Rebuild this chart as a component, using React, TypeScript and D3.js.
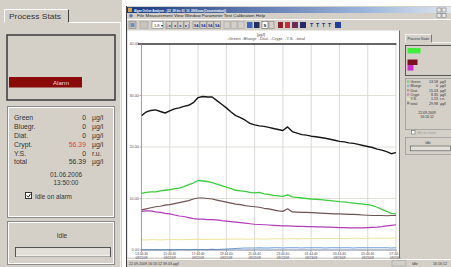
import React from 'react';
import * as d3 from 'd3';

// ---- chart data (20-minute samples from 22.09.2009 13:44:40) ----
const startTime = new Date(2009, 8, 22, 13, 44, 40);
const endTime = new Date(2009, 8, 23, 7, 44, 40);
const stepMinutes = 20;

const total = [26.1, 26.8, 27.1, 27.2, 26.9, 26.6, 27.0, 27.4, 27.6, 27.9, 28.1, 28.6, 29.6, 29.8, 29.7, 29.7, 29.0, 28.3, 27.6, 26.8, 26.1, 25.7, 25.2, 24.6, 24.3, 24.1, 24.0, 23.8, 23.6, 23.4, 23.2, 23.9, 23.0, 22.7, 22.4, 22.3, 22.1, 22.0, 21.85, 21.7, 21.5, 21.3, 21.1, 21.0, 20.8, 20.7, 20.5, 20.3, 20.1, 19.9, 19.6, 19.4, 19.1, 18.7, 18.9];
const green = [11.0, 11.2, 11.3, 11.3, 11.5, 11.6, 11.7, 11.9, 12.0, 12.3, 12.7, 13.0, 13.5, 13.4, 13.3, 13.1, 12.8, 12.5, 12.2, 11.9, 11.6, 11.5, 11.4, 11.2, 11.1, 11.2, 10.9, 10.8, 10.6, 10.5, 10.4, 10.7, 10.3, 10.2, 10.1, 10.0, 9.9, 9.85, 9.8, 9.7, 9.6, 9.5, 9.4, 9.35, 9.2, 9.1, 9.0, 8.9, 8.8, 8.6, 8.3, 7.9, 7.5, 7.1, 7.0];
const diat = [7.8, 8.0, 8.2, 8.4, 8.5, 8.7, 8.8, 9.0, 9.2, 9.4, 9.6, 9.9, 10.1, 10.1, 10.0, 9.9, 9.7, 9.5, 9.3, 9.1, 8.9, 8.8, 8.6, 8.5, 8.4, 8.3, 8.1, 8.0, 7.8, 7.6, 7.5, 8.0, 7.4, 7.35, 7.3, 7.3, 7.25, 7.2, 7.15, 7.1, 7.05, 7.0, 7.0, 6.95, 6.9, 6.9, 6.85, 6.8, 6.75, 6.7, 6.7, 6.7, 6.65, 6.7, 6.7];
const crypt = [7.5, 7.6, 7.6, 7.4, 7.3, 7.1, 7.0, 6.8, 6.6, 6.5, 6.3, 6.1, 6.0, 6.0, 5.9, 5.9, 5.85, 5.7, 5.6, 5.5, 5.4, 5.3, 5.2, 5.1, 5.0, 4.95, 4.9, 4.85, 4.8, 4.75, 4.7, 4.7, 4.65, 4.6, 4.6, 4.55, 4.55, 4.5, 4.5, 4.45, 4.45, 4.4, 4.35, 4.35, 4.3, 4.3, 4.3, 4.3, 4.35, 4.4, 4.45, 4.55, 4.7, 4.8, 4.9];
const yellowSubst = [1.95, 1.95, 2.0, 2.0, 1.95, 2.0, 2.0, 2.05, 2.0, 2.0, 2.05, 2.05, 2.1, 2.05, 2.05, 2.1, 2.1, 2.05, 2.1, 2.1, 2.1, 2.15, 2.1, 2.1, 2.15, 2.15, 2.1, 2.15, 2.15, 2.2, 2.15, 2.2, 2.2, 2.15, 2.2, 2.2, 2.2, 2.25, 2.2, 2.2, 2.25, 2.25, 2.25, 2.2, 2.25, 2.3, 2.25, 2.25, 2.3, 2.3, 2.3, 2.25, 2.3, 2.3, 2.3];
const bluegr = [0.05, 0.05, 0.05, 0.1, 0.05, 0.05, 0.1, 0.05, 0.1, 0.1, 0.05, 0.1, 0.1, 0.1, 0.1, 0.15, 0.1, 0.15, 0.2, 0.25, 0.3, 0.35, 0.4, 0.4, 0.4, 0.45, 0.4, 0.4, 0.45, 0.45, 0.4, 0.45, 0.45, 0.45, 0.4, 0.45, 0.45, 0.45, 0.45, 0.4, 0.45, 0.45, 0.45, 0.45, 0.45, 0.4, 0.45, 0.45, 0.45, 0.45, 0.45, 0.45, 0.45, 0.4, 0.45];

const yTicks = [0, 10, 20, 30, 40];
const xTickTimes = ['13:44:40', '15:44:40', '17:44:40', '19:44:40', '21:44:40', '23:44:40', '01:44:40', '03:44:40', '05:44:40', '07:44:40'];
const xTickDates = ['09/22/09', '09/22/09', '09/22/09', '09/22/09', '09/22/09', '09/22/09', '09/23/09', '09/23/09', '09/23/09', '09/23/09'];

const seriesNames = ['-Green', '-Bluegr.', '-Diat.', '-Crypt.', '-Y.S.', '-total'];
const leftValues = ['0', '0', '0', '56.39', '0', '56.39'];
const rightValues = ['13.58', '0', '15.03', '8.35', '1.53', '29.98'];
const statLabels = ['Green', 'Bluegr.', 'Diat.', 'Crypt.', 'Y.S.', 'total'];
const statUnits = ['µg/l', 'µg/l', 'µg/l', 'µg/l', 'r.u.', 'µg/l'];
const menuItems = 'File   Measurement   View   Window   Parameter   Test   Calibration   Help';

const GRAY = '#d4d0c8';
const FONT = 'Liberation Sans, Arial, sans-serif';

export default function App() {
  const times = total.map((_, i) => new Date(startTime.getTime() + i * stepMinutes * 60000));
  const x = d3.scaleTime().domain([startTime, endTime]).range([141.5, 396]);
  const y = d3.scaleLinear().domain([0, 40]).range([250, 44]);
  const line = d3.line<number>().x((_, i) => x(times[i])).y((d) => y(d));
  const tickDates = xTickTimes.map((_, i) => d3.timeHour.offset(startTime, 2 * i));

  const series = [
    { v: yellowSubst, c: '#efe39a', w: 1 },
    { v: bluegr, c: '#6a9fd8', w: 1.1 },
    { v: crypt, c: '#b23bb8', w: 1.2 },
    { v: diat, c: '#6f5252', w: 1.2 },
    { v: green, c: '#3ccd3c', w: 1.3 },
    { v: total, c: '#161616', w: 1.4 },
  ];

  const leftRowsY = [120, 129, 137.8, 146.8, 155.6, 164.4];
  const rightRowsY = [83, 87.3, 91.6, 95.9, 100.2, 104.5];

  return (
    <svg width={451} height={267} style={{ position: 'absolute', left: 0, top: 0, fontFamily: FONT }}>
      <defs>
        <linearGradient id="tb" x1="0" x2="1" y1="0" y2="0">
          <stop offset="0" stopColor="#1a3a82" />
          <stop offset="0.75" stopColor="#9fb8dc" />
          <stop offset="1" stopColor="#dfe6ee" />
        </linearGradient>
      </defs>
      <rect x={0} y={0} width={451} height={267} fill="#ffffff" />

      {/* ---------- left Process Stats panel ---------- */}
      <rect x={0} y={0} width={122} height={267} fill={GRAY} />
      <line x1={120.5} y1={22} x2={120.5} y2={267} stroke="#f4f2ee" />
      <path d="M4.5,22.5 V9.5 H68.5 V22.5" fill={GRAY} stroke="#ffffff" />
      <line x1={68.5} y1={9.5} x2={68.5} y2={22.5} stroke="#404040" />
      <line x1={68.5} y1={22.5} x2={120.5} y2={22.5} stroke="#ffffff" />
      <text x={9} y={19} fontSize={6.8} fill="#333" textLength={52} lengthAdjust="spacingAndGlyphs">Process Stats</text>
      <rect x={7} y={35} width={108} height={65} fill={GRAY} stroke="#3a3a3a" strokeWidth={1.5} />
      <rect x={9} y={77} width={73} height={10.5} fill="#8a0a0a" />
      <text x={61} y={85} fontSize={6.2} fill="#f3d6d6" textAnchor="middle">Alarm</text>
      <rect x={7.5} y={106.5} width={107} height={111} fill="none" stroke="#8a8a8a" />
      <rect x={8.5} y={107.5} width={105} height={109} fill="none" stroke="#ffffff" />
      {statLabels.map((l, i) => (
        <g key={l} fontSize={6.9}>
          <text x={14} y={leftRowsY[i]} fill="#333">{l}</text>
          <text x={86} y={leftRowsY[i]} fill={i === 3 ? '#e23b3b' : '#333'} textAnchor="end">{leftValues[i]}</text>
          <text x={92} y={leftRowsY[i]} fill="#333">{statUnits[i]}</text>
        </g>
      ))}
      <text x={66} y={177} fontSize={6.4} fill="#333" textAnchor="middle">01.06.2006</text>
      <text x={66} y={185} fontSize={6.4} fill="#333" textAnchor="middle">13:50:00</text>
      <rect x={25.5} y={192.5} width={6} height={6} fill="#fff" stroke="#333" />
      <path d="M26.8,195.5 L28.3,197.2 L30.6,193.8" fill="none" stroke="#222" strokeWidth={1} />
      <text x={35} y={198.5} fontSize={6.4} fill="#333">Idle on alarm</text>
      <rect x={7.5} y={221.5} width={107} height={43} fill="none" stroke="#8a8a8a" />
      <rect x={8.5} y={222.5} width={105} height={41} fill="none" stroke="#ffffff" />
      <text x={62} y={238} fontSize={6.4} fill="#333" textAnchor="middle">Idle</text>
      <rect x={15.5} y={247.5} width={95} height={9} fill="#e2dfd8" stroke="#555" />
      <line x1={16} y1={256} x2={110} y2={256} stroke="#fff" />

      {/* ---------- application window ---------- */}
      <rect x={126} y={6} width={325} height={261} fill={GRAY} />
      <line x1={126.5} y1={6} x2={126.5} y2={267} stroke="#404040" />
      <rect x={127} y={7} width={324} height={6} fill="url(#tb)" />
      <rect x={128} y={7.8} width={4} height={4.2} fill="#d8a040" />
      <text x={134} y={11.6} fontSize={4.2} fontWeight="bold" fill="#fff" textLength={92} lengthAdjust="spacingAndGlyphs">
        Algae Online Analyser - [22_09 bis 03_10_2009.aoa (Concentration)]
      </text>
      <g fill="#e8e8e8" stroke="#555" strokeWidth={0.4}>
        <rect x={437} y={8} width={4} height={4} />
        <rect x={442} y={8} width={4} height={4} />
        <rect x={437} y={13.5} width={4} height={4} />
        <rect x={442} y={13.5} width={4} height={4} />
      </g>
      {/* menu */}
      <circle cx={131} cy={15.8} r={1.8} fill="#5a7ab0" />
      <text x={137} y={17.4} fontSize={4} fill="#222" textLength={128} lengthAdjust="spacingAndGlyphs">{menuItems}</text>
      {/* toolbar */}
      <line x1={127} y1={19.5} x2={451} y2={19.5} stroke="#fff" />
      <g>
        <rect x={129} y={21.5} width={7} height={7} fill="#c8c4bc" stroke="#777" strokeWidth={0.5} />
        <rect x={130.5} y={23} width={4} height={4} fill="#6d8bbd" />
        <rect x={140} y={21.5} width={8} height={7} fill="#c8c4bc" stroke="#999" strokeWidth={0.5} />
        <rect x={152} y={21.5} width={11} height={7} fill="#fff" stroke="#666" strokeWidth={0.5} />
        <text x={154} y={26.6} fontSize={4} fill="#222">1.8 ▾</text>
        {[166, 172, 178, 184].map((bx, i) => (
          <g key={'n' + i}>
            <rect x={bx} y={21.5} width={5.5} height={7} fill={GRAY} stroke="#777" strokeWidth={0.5} />
            <text x={bx + 2.75} y={26.5} fontSize={3.6} fill="#1c2f7a" textAnchor="middle">{['|◄', '◄', '►', '►|'][i]}</text>
          </g>
        ))}
        {[193, 200, 207, 214].map((bx, i) => (
          <g key={'s' + i}>
            <rect x={bx} y={21.5} width={6.5} height={7} fill={GRAY} stroke="#777" strokeWidth={0.5} />
            <text x={bx + 3.25} y={26.5} fontSize={3.4} fill="#1c2f9a" textAnchor="middle" fontWeight="bold">SA</text>
          </g>
        ))}
        {[224, 231, 238].map((bx, i) => (
          <rect key={'g' + i} x={bx} y={21.5} width={6} height={7} fill={GRAY} stroke="#999" strokeWidth={0.5} />
        ))}
        <rect x={247} y={22} width={5.5} height={6} fill="#3d64c0" />
        <rect x={254} y={22} width={5.5} height={6} fill="#22305a" />
        <rect x={262} y={21.5} width={6} height={7} fill="#fff" stroke="#444" strokeWidth={0.5} />
        <text x={265} y={26.6} fontSize={4.2} fill="#222" textAnchor="middle" fontWeight="bold">S</text>
        <rect x={269} y={21.5} width={5} height={7} fill={GRAY} stroke="#777" strokeWidth={0.5} />
        <rect x={278} y={22} width={5} height={6} fill="#8c1f2a" />
        <rect x={285} y={22} width={5} height={6} fill="#c0303a" />
        <rect x={292} y={22} width={6} height={6} fill="#6a2f55" />
        <rect x={300} y={22} width={6} height={6} fill="#22286a" />
        {[310, 316, 322, 328].map((bx, i) => (
          <text key={'t' + i} x={bx} y={27} fontSize={5.2} fill="#1d2e73" fontWeight="bold">T</text>
        ))}
        <rect x={335} y={22} width={6} height={6} fill="#1e3f9e" />
      </g>

      {/* chart background */}
      <rect x={127.5} y={30.5} width={272} height={227} fill="#ffffff" />

      {/* gridlines */}
      {tickDates.slice(1).map((d, i) => (
        <line key={'vg' + i} x1={x(d)} x2={x(d)} y1={44} y2={250} stroke="#cfcfcf" strokeWidth={0.8} />
      ))}
      {yTicks.slice(1, -1).map((t) => (
        <line key={'hg' + t} x1={141.5} x2={396} y1={y(t)} y2={y(t)} stroke="#d8d8cf" strokeWidth={0.8} />
      ))}

      {/* series */}
      {series.map((s, i) => (
        <path key={'s' + i} d={line(s.v) || ''} fill="none" stroke={s.c} strokeWidth={s.w} strokeLinejoin="round" />
      ))}

      {/* axes */}
      <line x1={138} x2={396.5} y1={y(40)} y2={y(40)} stroke="#333" strokeWidth={1.6} />
      <line x1={141.5} x2={141.5} y1={y(40)} y2={y(0)} stroke="#8a8a8a" strokeWidth={0.8} />
      <line x1={141.5} x2={396.5} y1={y(0)} y2={y(0)} stroke="#6a7388" strokeWidth={0.9} />
      {yTicks.map((t) => (
        <g key={'yt' + t}>
          <line x1={139.5} x2={141.5} y1={y(t)} y2={y(t)} stroke="#888" strokeWidth={0.6} />
          <text x={139} y={y(t) + 1.2} fontSize={3.8} fill="#556" textAnchor="end">{t.toFixed(2)}</text>
        </g>
      ))}
      {tickDates.map((d, i) => (
        <g key={'xt' + i}>
          <line x1={x(d)} x2={x(d)} y1={250} y2={252} stroke="#888" strokeWidth={0.6} />
          <text x={x(d)} y={255.3} fontSize={3.3} fill="#445" textAnchor="middle">{xTickTimes[i]}</text>
          <text x={x(d)} y={258.6} fontSize={3.1} fill="#445" textAnchor="middle">{xTickDates[i]}</text>
        </g>
      ))}

      {/* legend */}
      <text x={261} y={36} fontSize={3.6} fill="#444" textAnchor="middle">[µg/l]</text>
      <text x={227} y={40.3} fontSize={3.5} fill="#555" textLength={78} lengthAdjust="spacingAndGlyphs">
        {seriesNames.join('  ')}
      </text>

      {/* status bar */}
      <rect x={127} y={259} width={324} height={8} fill={GRAY} />
      <line x1={127} y1={259.5} x2={451} y2={259.5} stroke="#fff" />
      <text x={129} y={264.5} fontSize={3.6} fill="#333">22.09.2009 16:16:12     39.03 µg/l</text>
      <rect x={392} y={260.5} width={14} height={5.5} fill="none" stroke="#999" strokeWidth={0.5} />
      <text x={412} y={264.5} fontSize={3.6} fill="#333">Idle</text>
      <text x={433} y={264.5} fontSize={3.6} fill="#333">16:16:12</text>

      {/* ---------- right Process Stats panel ---------- */}
      <rect x={400} y={30.5} width={51} height={228} fill={GRAY} />
      <line x1={399.5} y1={30.5} x2={399.5} y2={258} stroke="#6a6a6a" />
      <path d="M405.5,42.5 V34.5 H431.5 V42.5" fill={GRAY} stroke="#fff" strokeWidth={0.7} />
      <line x1={431.5} y1={34.5} x2={431.5} y2={42.5} stroke="#444" strokeWidth={0.7} />
      <line x1={431.5} y1={42.5} x2={451} y2={42.5} stroke="#fff" strokeWidth={0.7} />
      <text x={407.5} y={40.3} fontSize={3.5} fill="#333">Process State</text>
      <rect x={405.5} y={45.5} width={46} height={30} fill="none" stroke="#3a3a3a" strokeWidth={0.8} />
      <rect x={407.5} y={48} width={13} height={5.4} fill="#3ef03e" />
      <rect x={407.5} y={59.5} width={10} height={5.5} fill="#7a1020" />
      <rect x={407.5} y={65} width={6} height={5.6} fill="#d22bd2" />
      <rect x={405.5} y={78.5} width={46} height={51} fill="none" stroke="#8a8a8a" strokeWidth={0.6} />
      {statLabels.map((l, i) => (
        <g key={'r' + l} fontSize={3.6} fill="#333">
          <rect x={407} y={rightRowsY[i] - 2.6} width={2.4} height={2.4} fill={['#7fd07f', '#8fb6e0', '#b49a9a', '#d08ad0', '#f0e6a6', '#888'][i]} />
          <text x={410.5} y={rightRowsY[i]}>{l}</text>
          <text x={438} y={rightRowsY[i]} textAnchor="end">{rightValues[i]}</text>
          <text x={440} y={rightRowsY[i]}>{statUnits[i]}</text>
        </g>
      ))}
      <text x={427} y={113.5} fontSize={3.5} fill="#333" textAnchor="middle">22.09.2009</text>
      <text x={427} y={117.5} fontSize={3.5} fill="#333" textAnchor="middle">16:16:12</text>
      <rect x={411.5} y={130.5} width={3.5} height={3.5} fill="#fff" stroke="#555" strokeWidth={0.5} />
      <text x={417} y={133.8} fontSize={3.3} fill="#999">Idle on alarm</text>
      <rect x={405.5} y={137.5} width={46} height={17} fill="none" stroke="#8a8a8a" strokeWidth={0.6} />
      <text x={428} y={143.5} fontSize={3.5} fill="#333" textAnchor="middle">Idle</text>
      <rect x={410.5} y={146} width={40} height={4.8} fill="#e2dfd8" stroke="#555" strokeWidth={0.6} />
    </svg>
  );
}
